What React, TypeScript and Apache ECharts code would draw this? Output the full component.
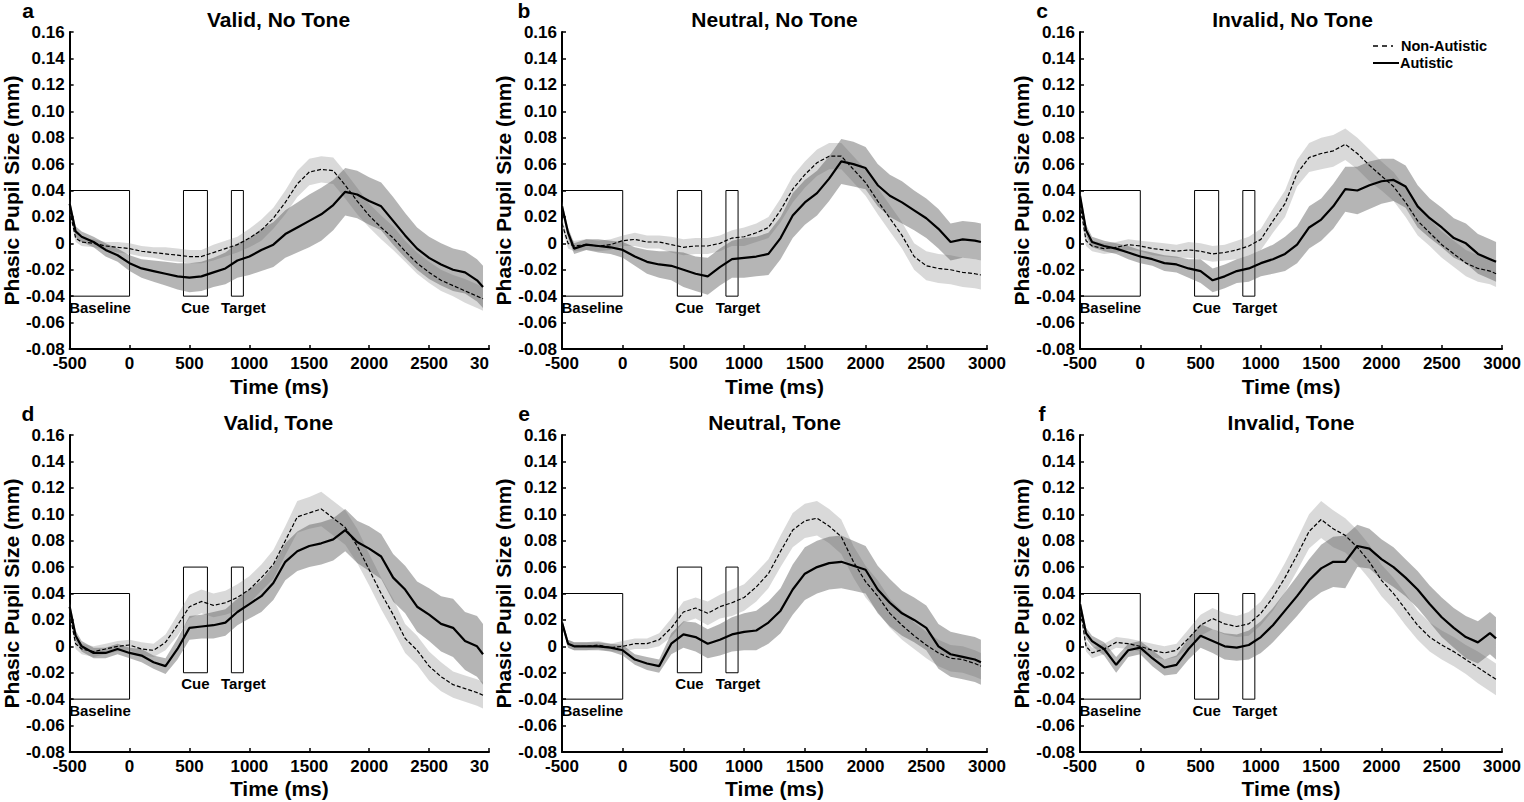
import { useEffect, useRef } from 'react';
import * as echarts from 'echarts';

const FONT = "'Liberation Sans', Arial, Helvetica, sans-serif";

const times = [-500, -450, -400, -300, -200, -100, 0, 100, 200, 300, 400, 500, 600, 700, 800, 900, 1000, 1100, 1200, 1300, 1400, 1500, 1600, 1700, 1800, 1900, 2000, 2100, 2200, 2300, 2400, 2500, 2600, 2700, 2800, 2900, 2950];

const panelTitles = ['Valid, No Tone', 'Neutral, No Tone', 'Invalid, No Tone', 'Valid, Tone', 'Neutral, Tone', 'Invalid, Tone'];
const panelLetters = ['a', 'b', 'c', 'd', 'e', 'f'];
const groupNames = ['Non-Autistic', 'Autistic'];
const windowNames = ['Baseline', 'Cue', 'Target'];
const windowTimes = [[-500, 0], [450, 650], [850, 950]];
const baselineRange = [-0.04, 0.04];
const cueTargetRange = [[-0.04, 0.04], [-0.04, 0.04], [-0.04, 0.04], [-0.02, 0.06], [-0.02, 0.06], [-0.04, 0.04]];

// a: Valid, No Tone
const validNoToneNon = [0.025, 0.004, 0.001, 0.000, -0.002, -0.003, -0.004, -0.006, -0.007, -0.008, -0.009, -0.010, -0.010, -0.007, -0.004, -0.001, 0.004, 0.010, 0.019, 0.031, 0.045, 0.054, 0.056, 0.055, 0.044, 0.032, 0.021, 0.012, 0.004, -0.006, -0.015, -0.022, -0.028, -0.032, -0.036, -0.040, -0.042];
const validNoToneNonSe = [0.003, 0.003, 0.003, 0.003, 0.003, 0.004, 0.004, 0.004, 0.004, 0.005, 0.005, 0.005, 0.005, 0.006, 0.006, 0.006, 0.007, 0.008, 0.008, 0.009, 0.010, 0.010, 0.010, 0.010, 0.010, 0.010, 0.009, 0.009, 0.009, 0.008, 0.008, 0.008, 0.008, 0.008, 0.009, 0.009, 0.009];
const validNoToneAut = [0.030, 0.009, 0.005, 0.001, -0.005, -0.009, -0.015, -0.019, -0.021, -0.023, -0.025, -0.026, -0.025, -0.022, -0.019, -0.013, -0.010, -0.005, -0.001, 0.007, 0.012, 0.017, 0.022, 0.029, 0.039, 0.037, 0.032, 0.028, 0.017, 0.006, -0.004, -0.011, -0.016, -0.020, -0.022, -0.028, -0.033];
const validNoToneAutSe = [0.004, 0.004, 0.004, 0.004, 0.005, 0.005, 0.006, 0.007, 0.008, 0.009, 0.010, 0.011, 0.011, 0.011, 0.012, 0.013, 0.014, 0.016, 0.017, 0.018, 0.019, 0.020, 0.020, 0.019, 0.018, 0.018, 0.018, 0.018, 0.018, 0.017, 0.016, 0.016, 0.016, 0.016, 0.016, 0.016, 0.016];

// b: Neutral, No Tone
const neutralNoToneNon = [0.015, 0.000, -0.002, -0.001, -0.002, -0.001, 0.002, 0.003, 0.001, 0.001, -0.001, -0.003, -0.002, -0.002, 0.000, 0.004, 0.005, 0.008, 0.012, 0.025, 0.041, 0.052, 0.061, 0.066, 0.066, 0.056, 0.046, 0.032, 0.019, 0.006, -0.010, -0.017, -0.019, -0.020, -0.022, -0.023, -0.024];
const neutralNoToneNonSe = [0.004, 0.004, 0.004, 0.004, 0.004, 0.004, 0.004, 0.005, 0.005, 0.005, 0.006, 0.006, 0.006, 0.006, 0.006, 0.006, 0.007, 0.007, 0.008, 0.009, 0.010, 0.010, 0.010, 0.010, 0.010, 0.010, 0.010, 0.010, 0.010, 0.010, 0.010, 0.011, 0.011, 0.011, 0.011, 0.011, 0.011];
const neutralNoToneAut = [0.028, 0.008, -0.004, -0.001, -0.002, -0.003, -0.005, -0.010, -0.014, -0.016, -0.017, -0.020, -0.023, -0.025, -0.018, -0.012, -0.011, -0.010, -0.008, 0.004, 0.021, 0.031, 0.038, 0.049, 0.062, 0.060, 0.057, 0.044, 0.036, 0.031, 0.025, 0.019, 0.011, 0.001, 0.003, 0.002, 0.001];
const neutralNoToneAutSe = [0.004, 0.004, 0.004, 0.004, 0.005, 0.005, 0.006, 0.007, 0.009, 0.010, 0.011, 0.013, 0.013, 0.014, 0.014, 0.014, 0.015, 0.015, 0.016, 0.016, 0.017, 0.017, 0.017, 0.017, 0.017, 0.017, 0.016, 0.016, 0.016, 0.016, 0.015, 0.015, 0.015, 0.014, 0.014, 0.014, 0.014];

// c: Invalid, No Tone
const invalidNoToneNon = [0.030, 0.002, -0.002, -0.004, -0.003, -0.001, -0.002, -0.004, -0.005, -0.006, -0.005, -0.006, -0.008, -0.007, -0.005, -0.002, 0.003, 0.017, 0.030, 0.053, 0.065, 0.068, 0.070, 0.075, 0.068, 0.059, 0.051, 0.043, 0.031, 0.017, 0.008, -0.001, -0.008, -0.015, -0.019, -0.021, -0.023];
const invalidNoToneNonSe = [0.004, 0.004, 0.004, 0.004, 0.004, 0.004, 0.004, 0.005, 0.005, 0.005, 0.006, 0.006, 0.006, 0.006, 0.007, 0.007, 0.008, 0.009, 0.010, 0.010, 0.011, 0.012, 0.012, 0.012, 0.012, 0.012, 0.011, 0.011, 0.011, 0.011, 0.010, 0.010, 0.010, 0.010, 0.010, 0.010, 0.010];
const invalidNoToneAut = [0.036, 0.010, 0.001, -0.002, -0.004, -0.007, -0.010, -0.012, -0.015, -0.016, -0.019, -0.021, -0.028, -0.025, -0.021, -0.019, -0.015, -0.012, -0.008, -0.001, 0.012, 0.018, 0.028, 0.041, 0.040, 0.044, 0.047, 0.048, 0.043, 0.028, 0.019, 0.012, 0.004, 0.000, -0.008, -0.012, -0.014];
const invalidNoToneAutSe = [0.004, 0.004, 0.004, 0.004, 0.004, 0.005, 0.005, 0.005, 0.006, 0.006, 0.007, 0.009, 0.009, 0.009, 0.009, 0.010, 0.010, 0.011, 0.013, 0.014, 0.016, 0.016, 0.017, 0.017, 0.018, 0.018, 0.017, 0.016, 0.016, 0.016, 0.015, 0.015, 0.015, 0.015, 0.015, 0.015, 0.015];

// d: Valid, Tone
const validToneNon = [0.025, 0.002, -0.002, -0.004, -0.002, 0.000, 0.001, -0.002, -0.003, 0.003, 0.016, 0.030, 0.034, 0.031, 0.033, 0.037, 0.043, 0.052, 0.062, 0.080, 0.098, 0.101, 0.104, 0.097, 0.090, 0.076, 0.058, 0.040, 0.024, 0.006, -0.003, -0.015, -0.023, -0.029, -0.032, -0.035, -0.037];
const validToneNonSe = [0.004, 0.004, 0.004, 0.004, 0.004, 0.004, 0.004, 0.005, 0.005, 0.006, 0.008, 0.009, 0.009, 0.009, 0.009, 0.010, 0.010, 0.010, 0.011, 0.011, 0.012, 0.012, 0.013, 0.013, 0.013, 0.013, 0.012, 0.012, 0.012, 0.011, 0.011, 0.011, 0.011, 0.010, 0.010, 0.010, 0.010];
const validToneAut = [0.030, 0.008, 0.000, -0.005, -0.005, -0.002, -0.005, -0.007, -0.012, -0.015, -0.002, 0.014, 0.015, 0.016, 0.018, 0.026, 0.032, 0.038, 0.048, 0.064, 0.072, 0.076, 0.078, 0.081, 0.088, 0.079, 0.074, 0.068, 0.052, 0.043, 0.030, 0.024, 0.017, 0.014, 0.004, 0.000, -0.006];
const validToneAutSe = [0.004, 0.004, 0.004, 0.004, 0.004, 0.004, 0.004, 0.005, 0.005, 0.006, 0.008, 0.009, 0.009, 0.010, 0.010, 0.010, 0.011, 0.012, 0.013, 0.014, 0.015, 0.016, 0.016, 0.016, 0.016, 0.016, 0.017, 0.017, 0.018, 0.018, 0.019, 0.020, 0.021, 0.022, 0.022, 0.023, 0.023];

// e: Neutral, Tone
const neutralToneNon = [0.018, 0.002, 0.000, 0.000, 0.001, -0.001, 0.000, 0.002, 0.002, 0.005, 0.014, 0.026, 0.029, 0.025, 0.030, 0.033, 0.037, 0.045, 0.055, 0.072, 0.088, 0.095, 0.097, 0.091, 0.083, 0.064, 0.049, 0.038, 0.025, 0.016, 0.008, 0.001, -0.005, -0.009, -0.010, -0.013, -0.015];
const neutralToneNonSe = [0.003, 0.003, 0.003, 0.003, 0.003, 0.003, 0.004, 0.004, 0.004, 0.005, 0.007, 0.008, 0.008, 0.009, 0.009, 0.010, 0.010, 0.011, 0.011, 0.012, 0.013, 0.013, 0.013, 0.013, 0.013, 0.012, 0.012, 0.012, 0.011, 0.011, 0.010, 0.010, 0.010, 0.010, 0.010, 0.010, 0.010];
const neutralToneAut = [0.018, 0.002, 0.000, 0.000, 0.000, -0.001, -0.003, -0.010, -0.013, -0.015, 0.002, 0.009, 0.007, 0.002, 0.005, 0.009, 0.011, 0.012, 0.018, 0.027, 0.043, 0.055, 0.060, 0.063, 0.064, 0.061, 0.058, 0.043, 0.033, 0.025, 0.020, 0.014, 0.000, -0.006, -0.008, -0.010, -0.012];
const neutralToneAutSe = [0.003, 0.003, 0.003, 0.003, 0.003, 0.003, 0.004, 0.004, 0.005, 0.005, 0.008, 0.010, 0.011, 0.011, 0.012, 0.013, 0.014, 0.015, 0.016, 0.017, 0.019, 0.020, 0.020, 0.020, 0.020, 0.019, 0.018, 0.018, 0.018, 0.017, 0.017, 0.017, 0.017, 0.017, 0.017, 0.017, 0.017];

// f: Invalid, Tone
const invalidToneNon = [0.030, 0.000, -0.005, -0.002, 0.003, 0.002, 0.000, -0.003, -0.005, -0.003, 0.006, 0.016, 0.021, 0.017, 0.015, 0.017, 0.025, 0.037, 0.052, 0.069, 0.087, 0.096, 0.089, 0.084, 0.075, 0.064, 0.050, 0.040, 0.028, 0.016, 0.007, 0.001, -0.004, -0.010, -0.016, -0.022, -0.025];
const invalidToneNonSe = [0.004, 0.004, 0.004, 0.004, 0.004, 0.004, 0.004, 0.005, 0.005, 0.005, 0.007, 0.008, 0.008, 0.008, 0.008, 0.009, 0.009, 0.010, 0.011, 0.012, 0.013, 0.014, 0.014, 0.013, 0.013, 0.013, 0.012, 0.012, 0.012, 0.011, 0.011, 0.011, 0.011, 0.011, 0.012, 0.012, 0.012];
const invalidToneAut = [0.032, 0.010, 0.004, -0.002, -0.014, -0.003, -0.001, -0.009, -0.016, -0.014, -0.002, 0.008, 0.004, 0.000, -0.001, 0.001, 0.007, 0.016, 0.027, 0.038, 0.050, 0.059, 0.064, 0.064, 0.076, 0.074, 0.066, 0.060, 0.052, 0.043, 0.032, 0.022, 0.014, 0.007, 0.003, 0.010, 0.006];
const invalidToneAutSe = [0.004, 0.004, 0.004, 0.005, 0.006, 0.005, 0.005, 0.006, 0.006, 0.007, 0.008, 0.009, 0.009, 0.010, 0.010, 0.011, 0.012, 0.013, 0.014, 0.015, 0.016, 0.018, 0.019, 0.020, 0.016, 0.015, 0.015, 0.015, 0.014, 0.014, 0.014, 0.015, 0.015, 0.016, 0.016, 0.016, 0.016];

const panelData = [
  [validNoToneNon, validNoToneNonSe, validNoToneAut, validNoToneAutSe],
  [neutralNoToneNon, neutralNoToneNonSe, neutralNoToneAut, neutralNoToneAutSe],
  [invalidNoToneNon, invalidNoToneNonSe, invalidNoToneAut, invalidNoToneAutSe],
  [validToneNon, validToneNonSe, validToneAut, validToneAutSe],
  [neutralToneNon, neutralToneNonSe, neutralToneAut, neutralToneAutSe],
  [invalidToneNon, invalidToneNonSe, invalidToneAut, invalidToneAutSe],
];

// plot areas in page pixels
const layouts = [
  { left: 68, top: 32, width: 421, height: 317 },
  { left: 562, top: 32, width: 425, height: 317 },
  { left: 1080, top: 32, width: 425, height: 317 },
  { left: 68, top: 435, width: 421, height: 317 },
  { left: 562, top: 435, width: 425, height: 317 },
  { left: 1080, top: 435, width: 422, height: 317 },
];
// panels a and d have their last x label cut off by the neighbouring panel
const cutLastLabel = [true, false, false, true, false, false];

const LIGHT_BAND = 'rgba(128,128,128,0.3)';
const DARK_BAND = 'rgba(90,90,90,0.45)';

const bold = (size: number) => ({ fontSize: size, fontWeight: 'bold' as const, color: '#000', fontFamily: FONT });

function bandSeries(mean: number[], se: number[], idx: number, fill: string) {
  const rows = times.map((t, k) => [t, mean[k] - se[k], mean[k] + se[k]]);
  return {
    type: 'custom',
    xAxisIndex: idx,
    yAxisIndex: idx,
    silent: true,
    data: rows,
    encode: { x: 0, y: [1, 2] },
    renderItem: (params: any, api: any) => {
      if (params.dataIndex !== 0) return null;
      const top = rows.map((r) => api.coord([r[0], r[2]]));
      const bottom = rows.map((r) => api.coord([r[0], r[1]])).reverse();
      return {
        type: 'polygon',
        shape: { points: top.concat(bottom) },
        style: { fill, lineWidth: 0 },
      };
    },
  };
}

function textEl(text: string, x: number, y: number, size: number, align: string) {
  return {
    type: 'text',
    x,
    y,
    z: 50,
    style: {
      text,
      fill: '#000',
      font: `bold ${size}px ${FONT}`,
      fontSize: size,
      fontWeight: 'bold',
      fontFamily: FONT,
      align,
      verticalAlign: 'middle',
      textAlign: align,
      textVerticalAlign: 'middle',
    },
  };
}

const App = () => {
  const chartRef = useRef<HTMLDivElement>(null);

  useEffect(() => {
    if (!chartRef.current) return;
    const myChart = echarts.init(chartRef.current, null, { renderer: 'svg' });

    const series: any[] = [];
    panelData.forEach(([non, nonSe, aut, autSe], i) => {
      series.push(bandSeries(non, nonSe, i, LIGHT_BAND));
      series.push(bandSeries(aut, autSe, i, DARK_BAND));
      const ct = cueTargetRange[i];
      const ranges = [baselineRange, ct, ct];
      const labelPos = [
        { position: ['0%', '100%'], align: 'left', offset: [0, 3] },
        { position: ['50%', '100%'], align: 'center', offset: [0, 3] },
        { position: ['50%', '100%'], align: 'center', offset: [6, 3] },
      ];
      series.push({
        name: groupNames[0],
        type: 'line',
        xAxisIndex: i,
        yAxisIndex: i,
        data: times.map((t, k) => [t, non[k]]),
        symbol: 'none',
        silent: true,
        lineStyle: { color: '#000', width: 1.2, type: [4, 2] },
        markArea: {
          silent: true,
          itemStyle: { color: 'rgba(0,0,0,0)', borderColor: '#000', borderWidth: 1 },
          label: { ...bold(15), verticalAlign: 'top' },
          data: windowNames.map((nm, w) => [
            {
              name: nm,
              xAxis: windowTimes[w][0],
              yAxis: ranges[w][0],
              label: { ...bold(15), verticalAlign: 'top', ...labelPos[w] },
            },
            { xAxis: windowTimes[w][1], yAxis: ranges[w][1] },
          ]),
        },
      });
      series.push({
        name: groupNames[1],
        type: 'line',
        xAxisIndex: i,
        yAxisIndex: i,
        data: times.map((t, k) => [t, aut[k]]),
        symbol: 'none',
        silent: true,
        lineStyle: { color: '#000', width: 2.2 },
      });
    });

    const graphic: any[] = [];
    layouts.forEach((g, i) => {
      const top = i < 3;
      graphic.push(textEl(panelTitles[i], g.left + g.width / 2, top ? 19.5 : 422, 21, 'center'));
      graphic.push(textEl(panelLetters[i], [28, 524, 1042][i % 3], top ? 10 : 413, 21, 'center'));
    });
    // legend (inside panel c)
    graphic.push({
      type: 'line',
      z: 50,
      shape: { x1: 1373, y1: 46, x2: 1393, y2: 46 },
      style: { stroke: '#000', lineWidth: 1.3, lineDash: [5, 4] },
    });
    graphic.push({
      type: 'line',
      z: 50,
      shape: { x1: 1373, y1: 63, x2: 1399, y2: 63 },
      style: { stroke: '#000', lineWidth: 2 },
    });
    graphic.push(textEl(groupNames[0], 1401, 45.5, 14.5, 'left'));
    graphic.push(textEl(groupNames[1], 1400, 63, 14.5, 'left'));

    const option = {
      animation: false,
      textStyle: { fontFamily: FONT },
      grid: layouts.map((g) => ({ ...g })),
      xAxis: layouts.map((_, i) => ({
        type: 'value',
        gridIndex: i,
        min: -500,
        max: 3000,
        interval: 500,
        name: 'Time (ms)',
        nameLocation: 'middle',
        nameGap: i < 3 ? 27 : 26,
        nameTextStyle: bold(21),
        axisLine: { onZero: false, lineStyle: { color: '#000', width: 2 } },
        axisTick: { inside: true, length: 4, lineStyle: { color: '#000', width: 1.5 } },
        axisLabel: {
          ...bold(17),
          lineHeight: 14,
          margin: 7,
          formatter: (v: number) => (cutLastLabel[i] && v === 3000 ? '{cut|30}' : String(v)),
          rich: { cut: { ...bold(17), lineHeight: 14, padding: [0, 19, 0, 0] } },
        },
        splitLine: { show: false },
      })),
      yAxis: layouts.map((_, i) => ({
        type: 'value',
        gridIndex: i,
        min: -0.08,
        max: 0.16,
        interval: 0.02,
        name: 'Phasic Pupil Size (mm)',
        nameLocation: 'middle',
        nameGap: 47,
        nameTextStyle: bold(21),
        axisLine: { onZero: false, lineStyle: { color: '#000', width: 2 } },
        axisTick: { inside: true, length: 4, lineStyle: { color: '#000', width: 1.5 } },
        axisLabel: {
          ...bold(17),
          lineHeight: 14,
          margin: 5,
          formatter: (v: number) => (Math.abs(v) < 1e-9 ? '0' : v.toFixed(2)),
        },
        splitLine: { show: false },
      })),
      series,
      graphic,
    };

    myChart.setOption(option);

    return () => {
      myChart.dispose();
    };
  }, []);

  return (
    <div
      ref={chartRef}
      style={{ position: 'absolute', left: 0, top: 0, width: '1524px', height: '802px', background: '#fff' }}
    />
  );
};

export default App;
